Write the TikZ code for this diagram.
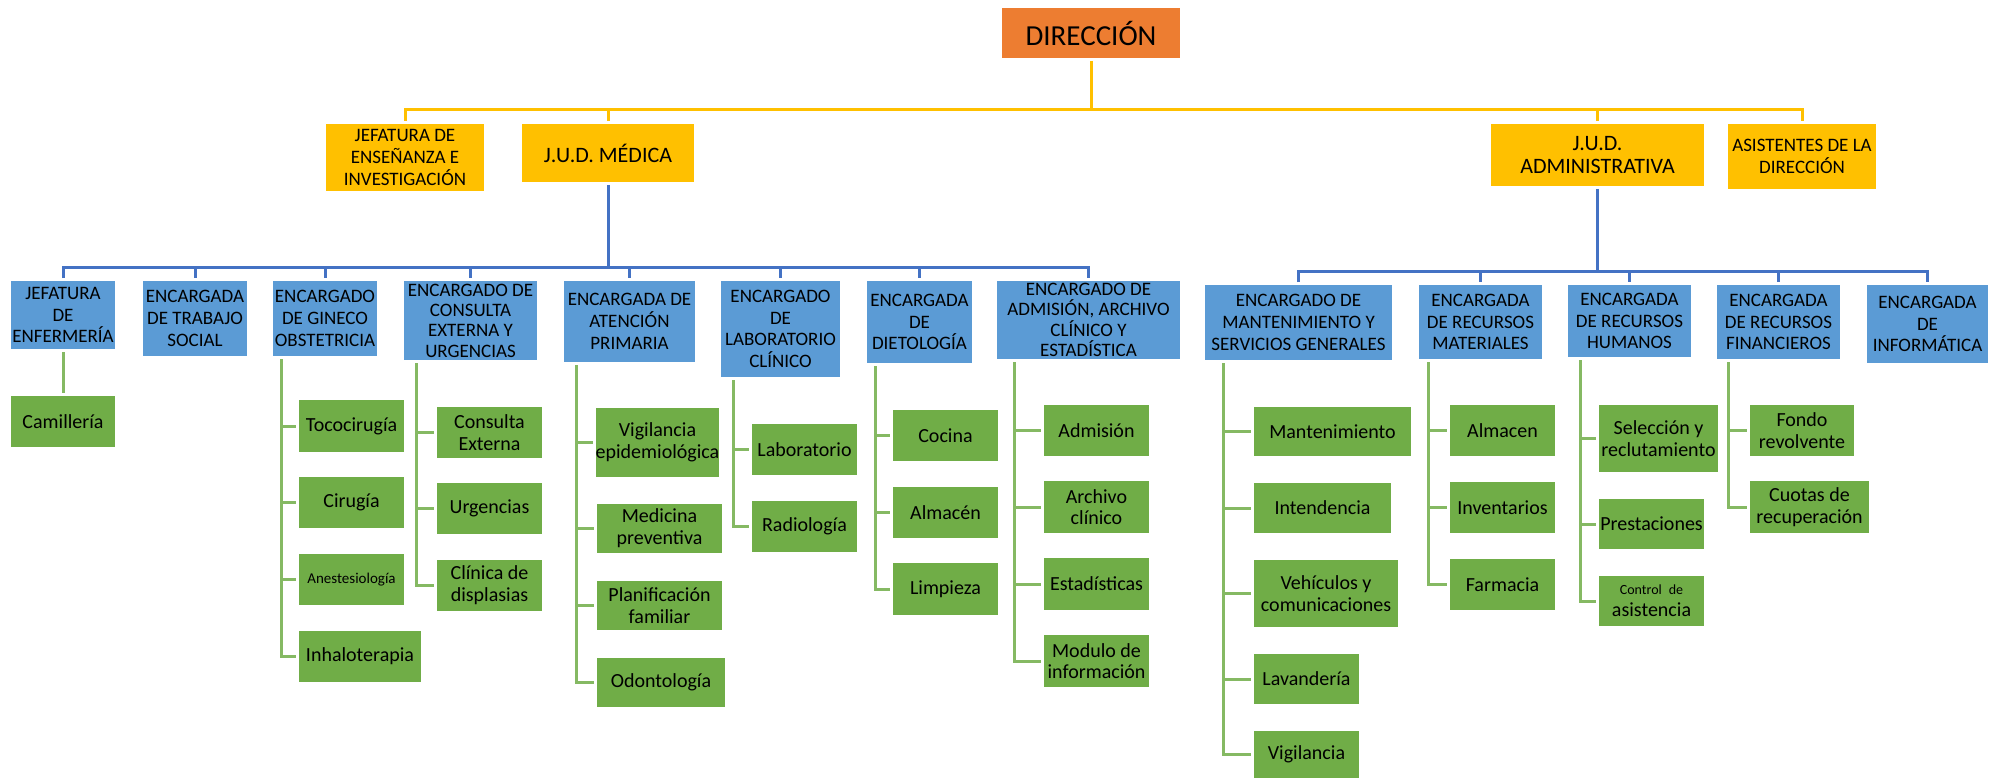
\documentclass[tikz,border=0pt]{standalone}
\usepackage{fontspec}
\setmainfont{Carlito}
\definecolor{dirorange}{HTML}{ED7D31}
\definecolor{jefgold}{HTML}{FFC000}
\definecolor{encblue}{HTML}{5B9BD5}
\definecolor{unitgreen}{HTML}{70AD47}
\definecolor{lineblue}{HTML}{4472C4}
\colorlet{linegreen}{unitgreen!85!white}
\newcommand{\headfont}{\fontsize{19}{21.7}\selectfont}
\newcommand{\unitfont}{\fontsize{20}{21.7}\selectfont}
\tikzset{
  box/.style={rectangle, inner sep=0pt, outer sep=3pt, align=center, text=black},
  sz/.style 2 args={minimum width=#1pt, minimum height=#2pt},
  dirbox/.style={box, fill=dirorange, font=\fontsize{29}{32}\selectfont},
  jefbox/.style={box, fill=jefgold, font=\headfont},
  judbox/.style={box, fill=jefgold, font=\fontsize{22}{23.5}\selectfont},
  encbox/.style={box, fill=encblue, font=\headfont},
  fourlines/.style={font=\fontsize{19}{20.3}\selectfont},
  unitbox/.style={box, fill=unitgreen, font=\unitfont},
  yline/.style={draw=jefgold, line width=3pt},
  bline/.style={draw=lineblue, line width=3pt},
  gline/.style={draw=linegreen, line width=3pt},
}
\begin{document}
\begin{tikzpicture}[x=1pt,y=-1pt]
  \useasboundingbox (0,0) rectangle (2007,778);
  % direccion and jefaturas
  \node[dirbox, sz={178}{50}] (dir) at (1091,33) {DIRECCIÓN};
  \node[jefbox, sz={158}{67}] (jens) at (405,157.5) {JEFATURA DE\\ENSEÑANZA E\\INVESTIGACIÓN};
  \node[judbox, sz={172}{58}] (jmed) at (608,153) {J.U.D. MÉDICA};
  \node[judbox, sz={213}{62}] (jadm) at (1597.5,155) {J.U.D.\\ADMINISTRATIVA};
  \node[jefbox, sz={148}{65}] (asis) at (1802,156.5) {ASISTENTES DE LA\\DIRECCIÓN};

  % encargados, medica
  \node[encbox, sz={104}{68}] (enf) at (63,315) {JEFATURA\\DE\\ENFERMERÍA};
  \node[encbox, sz={104}{75}] (tsoc) at (195,318.5) {ENCARGADA\\DE TRABAJO\\SOCIAL};
  \node[encbox, sz={104}{75}] (gin) at (325,318.5) {ENCARGADO\\DE GINECO\\OBSTETRICIA};
  \node[encbox, fourlines, sz={133}{79}] (cext) at (470.5,320.5) {ENCARGADO DE\\CONSULTA\\EXTERNA Y\\URGENCIAS};
  \node[encbox, sz={131}{81}] (aten) at (629.5,321.5) {ENCARGADA DE\\ATENCIÓN\\PRIMARIA};
  \node[encbox, sz={119}{96}] (lab) at (780.5,329) {ENCARGADO\\DE\\LABORATORIO\\CLÍNICO};
  \node[encbox, sz={105}{82}] (diet) at (919.5,322) {ENCARGADA\\DE\\DIETOLOGÍA};
  \node[encbox, fourlines, sz={183}{78}] (adm) at (1088.5,320) {ENCARGADO DE\\ADMISIÓN, ARCHIVO\\CLÍNICO Y\\ESTADÍSTICA};
  % encargados, administrativa
  \node[encbox, sz={187}{75}] (mant) at (1298.5,322.5) {ENCARGADO DE\\MANTENIMIENTO Y\\SERVICIOS GENERALES};
  \node[encbox, sz={123}{74}] (mat) at (1480.5,322) {ENCARGADA\\DE RECURSOS\\MATERIALES};
  \node[encbox, sz={123}{72}] (hum) at (1629.5,321) {ENCARGADA\\DE RECURSOS\\HUMANOS};
  \node[encbox, sz={123}{74}] (fin) at (1778.5,322) {ENCARGADA\\DE RECURSOS\\FINANCIEROS};
  \node[encbox, sz={121}{78}] (inf) at (1927.5,324) {ENCARGADA\\DE\\INFORMÁTICA};

  % areas
  \node[unitbox, sz={104}{51}] (cam) at (63,421.5) {Camillería};
  \node[unitbox, sz={105}{52}] (toco) at (351.5,426) {Tococirugía};
  \node[unitbox, sz={105}{51}] (ciru) at (351.5,502.5) {Cirugía};
  \node[unitbox, sz={105}{51}, font=\fontsize{15}{17}\selectfont] (anes) at (351.5,579.5) {Anestesiología};
  \node[unitbox, sz={122}{51}] (inha) at (360,656.5) {Inhaloterapia};
  \node[unitbox, sz={105}{51}] (cons) at (489.5,432.5) {Consulta\\Externa};
  \node[unitbox, sz={105}{51}] (urg) at (489.5,508.5) {Urgencias};
  \node[unitbox, sz={105}{51}] (clin) at (489.5,585.5) {Clínica de\\displasias};
  \node[unitbox, sz={121}{69}] (vig) at (657.5,442.5) {Vigilancia\\epidemiológica};
  \node[unitbox, sz={125}{49}] (med) at (659.5,528.5) {Medicina\\preventiva};
  \node[unitbox, sz={125}{49}] (plan) at (659.5,605.5) {Planificación\\familiar};
  \node[unitbox, sz={128}{49}] (odon) at (661,682.5) {Odontología};
  \node[unitbox, sz={105}{51}] (labo) at (804.5,449.5) {Laboratorio};
  \node[unitbox, sz={105}{51}] (radi) at (804.5,526.5) {Radiología};
  \node[unitbox, sz={105}{51}] (coc) at (945.5,435.5) {Cocina};
  \node[unitbox, sz={105}{51}] (alm) at (945.5,512.5) {Almacén};
  \node[unitbox, sz={105}{52}] (lim) at (945.5,589) {Limpieza};
  \node[unitbox, sz={105}{51}] (admi) at (1096.5,430.5) {Admisión};
  \node[unitbox, sz={105}{52}] (arch) at (1096.5,507) {Archivo\\clínico};
  \node[unitbox, sz={105}{52}] (esta) at (1096.5,584) {Estadísticas};
  \node[unitbox, sz={105}{52}] (modu) at (1096.5,661) {Modulo de\\información};
  \node[unitbox, sz={157}{49}] (mnt) at (1332.5,431.5) {Mantenimiento};
  \node[unitbox, sz={137}{50}] (inte) at (1322.5,508) {Intendencia};
  \node[unitbox, sz={144}{67}] (vehi) at (1326,593.5) {Vehículos y\\comunicaciones};
  \node[unitbox, sz={105}{50}] (lava) at (1306.5,679) {Lavandería};
  \node[unitbox, sz={105}{47}] (vigi) at (1306.5,754.5) {Vigilancia};
  \node[unitbox, sz={105}{51}] (almc) at (1502.5,430.5) {Almacen};
  \node[unitbox, sz={105}{51}] (inv) at (1502.5,507.5) {Inventarios};
  \node[unitbox, sz={105}{51}] (farm) at (1502.5,584.5) {Farmacia};
  \node[unitbox, sz={119}{67}] (sel) at (1658.5,438.5) {Selección y\\reclutamiento};
  \node[unitbox, sz={105}{50}] (pres) at (1651.5,524) {Prestaciones};
  \node[unitbox, sz={105}{50}] (ctrl) at (1651.5,601) {{\fontsize{14}{16}\selectfont Control\enspace de}\\asistencia};
  \node[unitbox, sz={104}{51}] (fon) at (1802,430.5) {Fondo\\revolvente};
  \node[unitbox, sz={119}{52}] (cuo) at (1809.5,507) {Cuotas de\\recuperación};

  % yellow bus
  \coordinate (ybus) at (0,110);
  \draw[yline] (dir.south) -- (dir.south |- ybus);
  \draw[yline] (jens.north) -- (jens.north |- ybus) -- (asis.north |- ybus) -- (asis.north);
  \foreach \n in {jmed,jadm}
    \draw[yline] (\n.north |- ybus) -- (\n.north);

  % blue buses
  \coordinate (mbus) at (0,267);
  \coordinate (abus) at (0,271);
  \draw[bline] (jmed.south) -- (jmed.south |- mbus);
  \draw[bline] (enf.north) -- (enf.north |- mbus) -- (adm.north |- mbus) -- (adm.north);
  \foreach \n in {tsoc,gin,cext,aten,lab,diet}
    \draw[bline] (\n.north |- mbus) -- (\n.north);
  \draw[bline] (jadm.south) -- (jadm.south |- abus);
  \draw[bline] (mant.north) -- (mant.north |- abus) -- (inf.north |- abus) -- (inf.north);
  \foreach \n in {mat,hum,fin}
    \draw[bline] (\n.north |- abus) -- (\n.north);

  % green branches
  \draw[gline] (enf.south) -- (cam.north);
  \foreach \c in {toco,ciru,anes,inha}
    \draw[gline] ([xshift=11]gin.south west) |- (\c.west);
  \foreach \c in {cons,urg,clin}
    \draw[gline] ([xshift=15]cext.south west) |- (\c.west);
  \foreach \c in {vig,med,plan,odon}
    \draw[gline] ([xshift=15]aten.south west) |- (\c.west);
  \foreach \c in {labo,radi}
    \draw[gline] ([xshift=15]lab.south west) |- (\c.west);
  \foreach \c in {coc,alm,lim}
    \draw[gline] ([xshift=11]diet.south west) |- (\c.west);
  \foreach \c in {admi,arch,esta,modu}
    \draw[gline] ([xshift=20]adm.south west) |- (\c.west);
  \foreach \c in {mnt,inte,vehi,lava,vigi}
    \draw[gline] ([xshift=21]mant.south west) |- (\c.west);
  \foreach \c in {almc,inv,farm}
    \draw[gline] ([xshift=12]mat.south west) |- (\c.west);
  \foreach \c in {sel,pres,ctrl}
    \draw[gline] ([xshift=15]hum.south west) |- (\c.west);
  \foreach \c in {fon,cuo}
    \draw[gline] ([xshift=14]fin.south west) |- (\c.west);
\end{tikzpicture}
\end{document}
